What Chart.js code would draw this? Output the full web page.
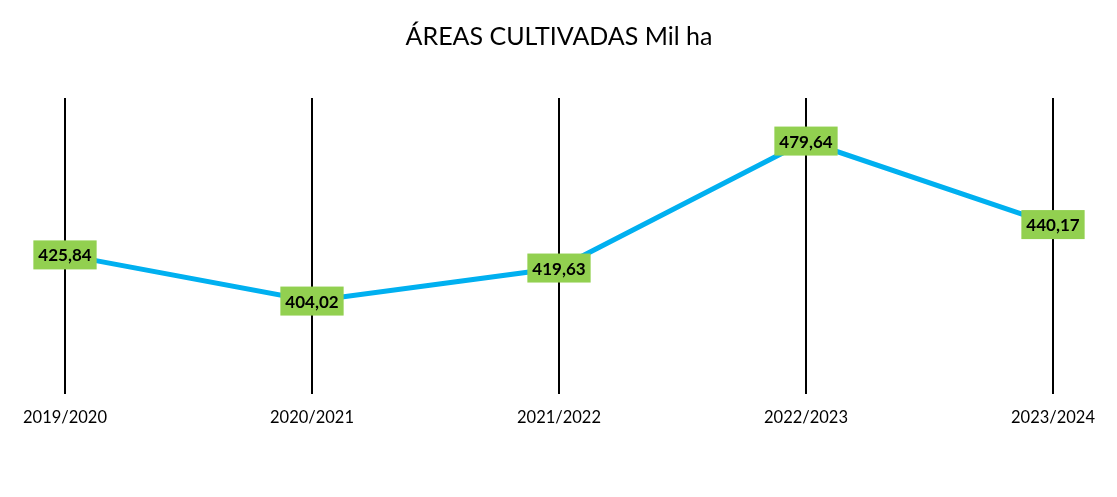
<!DOCTYPE html>
<html>
<head>
<meta charset="utf-8">
<script src="https://cdn.jsdelivr.net/npm/chart.js@4/dist/chart.umd.min.js"></script>
<style>
  html, body { margin: 0; padding: 0; background: #fff; }
  #wrap { width: 1117px; height: 497px; }
</style>
</head>
<body>
<div id="wrap"><canvas id="areaChart"></canvas></div>
<script>
// Dados
const safras = ['2019/2020', '2020/2021', '2021/2022', '2022/2023', '2023/2024'];
const areas = [425.84, 404.02, 419.63, 479.64, 440.17];

// Rótulos verdes sobre cada ponto
const rotulosVerdes = {
  id: 'rotulosVerdes',
  afterDatasetsDraw(chart) {
    const ctx = chart.ctx;
    const meta = chart.getDatasetMeta(0);
    ctx.save();
    ctx.font = 'bold 17px Lato, "Open Sans", sans-serif';
    ctx.textAlign = 'center';
    ctx.textBaseline = 'middle';
    meta.data.forEach((pt, i) => {
      const txt = areas[i].toFixed(2).replace('.', ',');
      const w = ctx.measureText(txt).width + 10;
      const h = 29;
      ctx.fillStyle = '#92D050';
      ctx.fillRect(pt.x - w / 2, pt.y - h / 2, w, h);
      ctx.fillStyle = '#000';
      ctx.fillText(txt, pt.x, pt.y + 1);
    });
    ctx.restore();
  }
};

const ctx = document.getElementById('areaChart').getContext('2d');
new Chart(ctx, {
  type: 'line',
  data: {
    labels: safras,
    datasets: [{
      data: areas,
      borderColor: '#00B0F0',
      borderWidth: 5,
      pointRadius: 0,
      tension: 0,
    }],
  },
  options: {
    responsive: true,
    maintainAspectRatio: false,
    animation: false,
    layout: { padding: { left: 65, right: 64, top: 0, bottom: 55 } },
    plugins: {
      legend: { display: false },
      tooltip: { enabled: false },
      title: {
        display: true,
        text: 'ÁREAS CULTIVADAS Mil ha',
        color: '#000',
        font: { family: 'Lato, "Open Sans", sans-serif', size: 25, weight: 'normal' },
        padding: { top: 22, bottom: 46 },
      },
    },
    scales: {
      x: {
        offset: false,
        grid: { color: '#000', lineWidth: 2, drawTicks: false },
        border: { display: false },
        ticks: {
          color: '#000',
          padding: 14,
          maxRotation: 0,
          font: { family: 'Lato, "Open Sans", sans-serif', size: 16.5 },
        },
      },
      y: {
        display: false,
        min: 360,
        max: 500,
      },
    },
  },
  plugins: [rotulosVerdes],
});
</script>
</body>
</html>
